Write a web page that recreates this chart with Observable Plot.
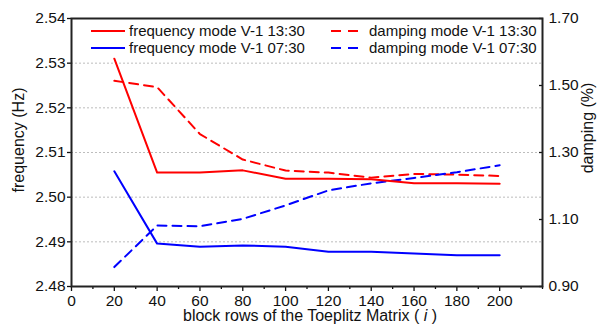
<!DOCTYPE html>
<html>
<head>
<meta charset="utf-8">
<script src="https://cdn.jsdelivr.net/npm/d3@7"></script>
<script src="https://cdn.jsdelivr.net/npm/@observablehq/plot@0.6"></script>
<style>
  html, body { margin: 0; padding: 0; background: #fff; }
</style>
</head>
<body>
<div id="chart"></div>
<script>
// ---- data ----
const rows = [20, 40, 60, 80, 100, 120, 140, 160, 180, 200];
const freq1330 = [2.531, 2.5055, 2.5055, 2.506, 2.5041, 2.5041, 2.504, 2.5031, 2.5031, 2.503];
const freq0730 = [2.5058, 2.4896, 2.4889, 2.4892, 2.4889, 2.4878, 2.4878, 2.4874, 2.487, 2.487];
const damp1330 = [1.514, 1.495, 1.355, 1.279, 1.246, 1.240, 1.225, 1.236, 1.234, 1.230];
const damp0730 = [0.958, 1.082, 1.080, 1.102, 1.142, 1.187, 1.208, 1.224, 1.241, 1.262];
const seriesNames = ["frequency mode V-1 13:30", "frequency mode V-1 07:30", "damping mode V-1 13:30", "damping mode V-1 07:30"];
const xMajorTicks = [0, 20, 40, 60, 80, 100, 120, 140, 160, 180, 200];
const xMinorTicks = [10, 30, 50, 70, 90, 110, 130, 150, 170, 190, 210, 220];
const freqTicks = [2.48, 2.49, 2.50, 2.51, 2.52, 2.53, 2.54];
const dampTicks = [0.90, 1.10, 1.30, 1.50, 1.70];

// dual axis mapping: damping -> frequency scale
const fDom = [2.48, 2.54], dDom = [0.90, 1.70];
const d2f = d => fDom[0] + (d - dDom[0]) * (fDom[1] - fDom[0]) / (dDom[1] - dDom[0]);
const f2d = f => dDom[0] + (f - fDom[0]) * (dDom[1] - dDom[0]) / (fDom[1] - fDom[0]);

const mk = (vals, map) => rows.map((r, i) => ({x: r, y: map ? map(vals[i]) : vals[i]}));
const sF1 = mk(freq1330), sF2 = mk(freq0730), sD1 = mk(damp1330, d2f), sD2 = mk(damp0730, d2f);

const RED = "#ff0000", BLUE = "#0000ff";
const FONT = "'Liberation Sans', Arial, sans-serif";

const plot = Plot.plot({
  width: 597, height: 331,
  marginLeft: 71, marginRight: 55, marginTop: 18, marginBottom: 45,
  style: {fontFamily: FONT, fontSize: "15.5px", color: "#111", background: "#fff", overflow: "visible"},
  x: {domain: [0, 220]},
  y: {domain: fDom},
  marks: [
    Plot.gridY(freqTicks.slice(1, -1), {stroke: "#bdbdbd", strokeOpacity: 1, strokeDasharray: "2,2", strokeWidth: 1}),
    Plot.axisX(xMinorTicks, {tickSize: 3, tickFormat: () => "", label: null, strokeWidth: 1.3}),
    Plot.axisX(xMajorTicks, {tickSize: 5, tickPadding: 3, label: null, strokeWidth: 1.3}),
    Plot.axisY(freqTicks, {tickSize: 4, tickPadding: 2, tickFormat: d => d.toFixed(2), label: null, strokeWidth: 1.3}),
    Plot.axisY(dampTicks.map(d2f), {anchor: "right", tickSize: -4, tickPadding: 10, tickFormat: v => f2d(v).toFixed(2), label: null, strokeWidth: 1.3}),
    Plot.line(sD1, {x: "x", y: "y", stroke: RED, strokeWidth: 2, strokeDasharray: "9,6"}),
    Plot.line(sD2, {x: "x", y: "y", stroke: BLUE, strokeWidth: 2, strokeDasharray: "9,6"}),
    Plot.line(sF1, {x: "x", y: "y", stroke: RED, strokeWidth: 2}),
    Plot.line(sF2, {x: "x", y: "y", stroke: BLUE, strokeWidth: 2}),
    Plot.frame({stroke: "#222", strokeWidth: 2})
  ]
});
document.getElementById("chart").appendChild(plot);

const svg = d3.select(plot);
// axis titles
svg.append("text")
  .attr("x", 310).attr("y", 321)
  .attr("text-anchor", "middle")
  .style("font-family", FONT).style("font-size", "16px").attr("fill", "#111")
  .call(t => {
    t.append("tspan").text("block rows of the Toeplitz Matrix ( ");
    t.append("tspan").style("font-style", "italic").text("i");
    t.append("tspan").text(" )");
  });
svg.append("text")
  .attr("transform", "translate(24,140) rotate(-90)")
  .attr("text-anchor", "middle")
  .style("font-family", FONT).style("font-size", "16px").attr("fill", "#111")
  .text("frequency (Hz)");
svg.append("text")
  .attr("transform", "translate(593,128) rotate(-90)")
  .attr("text-anchor", "middle")
  .style("font-family", FONT).style("font-size", "16px").attr("fill", "#111")
  .text("damping (%)");

// legend
const legend = [
  {name: seriesNames[0], color: RED, dash: null, x: 91, y: 31},
  {name: seriesNames[1], color: BLUE, dash: null, x: 91, y: 48},
  {name: seriesNames[2], color: RED, dash: "10,7", x: 331, y: 31},
  {name: seriesNames[3], color: BLUE, dash: "10,7", x: 331, y: 48}
];
const lg = svg.append("g").attr("text-anchor", "start");
legend.forEach(l => {
  const len = l.dash ? 27 : 34;
  lg.append("line").attr("x1", l.x).attr("x2", l.x + len).attr("y1", l.y).attr("y2", l.y)
    .attr("stroke", l.color).attr("stroke-width", 2)
    .attr("stroke-dasharray", l.dash);
  lg.append("text").attr("x", l.dash ? 369 : 129).attr("y", l.y).attr("dy", "0.35em")
    .attr("text-anchor", "start")
    .style("font-family", FONT).style("font-size", "15px").attr("fill", "#111")
    .text(l.name);
});
</script>
</body>
</html>
